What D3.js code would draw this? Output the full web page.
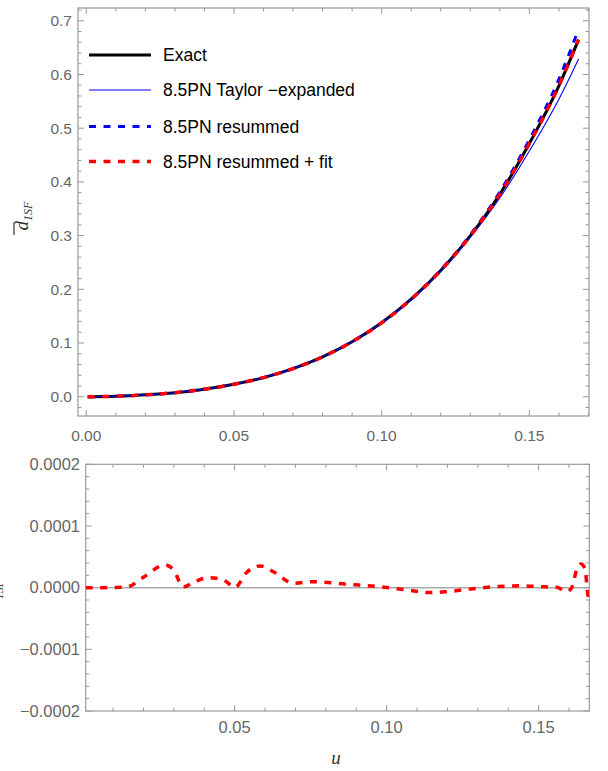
<!DOCTYPE html>
<html><head><meta charset="utf-8">
<script src="https://cdn.jsdelivr.net/npm/d3@7"></script>
<style>html,body{margin:0;padding:0;background:#fff;}svg{display:block;}</style>
</head><body>
<svg id="c" width="608" height="771"></svg>
<script>
// ---- data ----
const uGrid = [0.0005, 0.01, 0.02, 0.03, 0.04, 0.05, 0.06, 0.07, 0.08, 0.09, 0.10, 0.11, 0.12, 0.13, 0.14, 0.15, 0.16, 0.16667];
const exact = [0.0, 0.0008, 0.0035, 0.0075, 0.0140, 0.0232, 0.0356, 0.0523, 0.0742, 0.1024, 0.1377, 0.1815, 0.2350, 0.2995, 0.3770, 0.4715, 0.5790, 0.6650];
const taylor = [0.0, 0.0008, 0.0035, 0.0075, 0.0140, 0.0232, 0.0356, 0.0523, 0.0742, 0.1024, 0.1377, 0.1810, 0.2340, 0.2965, 0.3700, 0.4575, 0.5540, 0.6290];
const resummed = [0.0, 0.0008, 0.0035, 0.0075, 0.0140, 0.0232, 0.0356, 0.0523, 0.0742, 0.1024, 0.1378, 0.1820, 0.2360, 0.3015, 0.3810, 0.4785, 0.5910, 0.6840];
const fitted = exact;
const resU = [0.001, 0.005, 0.011, 0.0145, 0.02, 0.0271, 0.030, 0.0331, 0.037, 0.0413, 0.0463, 0.0501, 0.054, 0.0583, 0.063, 0.0693, 0.0759, 0.0868, 0.0978, 0.1066, 0.1142, 0.1197, 0.1285, 0.1362, 0.1439, 0.1504, 0.156, 0.1592, 0.1609, 0.1625, 0.1639, 0.1652, 0.1663, 0.16667];
const resV = [0, 0, 0.0000003, 0.000001, 0.000017, 0.0000368, 0.000028, 0.000001, 0.000010, 0.0000162, 0.0000125, 0.0000005, 0.000025, 0.0000352, 0.000025, 0.000007, 0.0000097, 0.0000055, 0.0000016, -0.0000037, -0.000008, -0.0000065, -0.0000016, 0.0000016, 0.000003, 0.0000016, 0.0000005, -0.0000065, 0.0, 0.0000287, 0.0000384, 0.0000314, -0.0000146, -0.00002];
const topXTicks = [0.00, 0.05, 0.10, 0.15];
const topYTicks = [0.0, 0.1, 0.2, 0.3, 0.4, 0.5, 0.6, 0.7];
const botXTicks = [0.05, 0.10, 0.15];
const botYTicks = [-0.0002, -0.0001, 0.0, 0.0001, 0.0002];
const legendLabels = ["Exact", "8.5PN Taylor \u2212expanded", "8.5PN resummed", "8.5PN resummed + fit"];

// ---- setup ----
const svg = d3.select("#c");
const frameCol = "#999999", labCol = "#666666";
const sans = "'Liberation Sans', Arial, sans-serif";
const serif = "'Liberation Serif', 'Times New Roman', serif";

function panel(g, x, y, xMinor, yMinor, xMajor, yMajor) {
  const [x0, x1] = x.range(), [y1, y0] = y.range();
  g.append("rect").attr("x", x0).attr("y", y0).attr("width", x1 - x0).attr("height", y1 - y0)
    .attr("fill", "none").attr("stroke", frameCol).attr("stroke-width", 1.2);
  const tk = g.append("g").attr("stroke", frameCol).attr("stroke-width", 1);
  xMinor.forEach(v => { const px = x(v); if (px < x0 || px > x1) return;
    const L = xMajor.some(m => Math.abs(m - v) < 1e-9) ? 6 : 3.5;
    tk.append("line").attr("x1", px).attr("x2", px).attr("y1", y1).attr("y2", y1 - L);
    tk.append("line").attr("x1", px).attr("x2", px).attr("y1", y0).attr("y2", y0 + L);
  });
  yMinor.forEach(v => { const py = y(v); if (py < y0 - 0.1 || py > y1 + 0.1) return;
    const L = yMajor.some(m => Math.abs(m - v) < 1e-12) ? 6 : 3.5;
    tk.append("line").attr("y1", py).attr("y2", py).attr("x1", x0).attr("x2", x0 + L);
    tk.append("line").attr("y1", py).attr("y2", py).attr("x1", x1).attr("x2", x1 - L);
  });
}

// ---- top panel ----
const xT = d3.scaleLinear().domain([-0.0028, 0.1702]).range([78, 589]);
const yT = d3.scaleLinear().domain([-0.0359, 0.7238]).range([416, 8]);
const gT = svg.append("g");
const xMinT = d3.range(0, 18).map(i => i * 0.01);
const yMinT = d3.range(-1, 37).map(i => i * 0.02);
panel(gT, xT, yT, xMinT, yMinT, topXTicks, topYTicks);
gT.selectAll(".xl").data(topXTicks).enter().append("text")
  .attr("x", d => xT(d)).attr("y", 441).attr("text-anchor", "middle")
  .attr("font-family", sans).attr("font-size", 15.5).attr("fill", labCol).text(d => d.toFixed(2));
gT.selectAll(".yl").data(topYTicks).enter().append("text")
  .attr("x", 72).attr("y", d => yT(d)).attr("dy", "0.35em").attr("text-anchor", "end")
  .attr("font-family", sans).attr("font-size", 15.5).attr("fill", labCol).text(d => d.toFixed(1));

svg.append("defs").append("clipPath").attr("id", "clipT").append("rect")
  .attr("x", 78).attr("y", 8).attr("width", 511).attr("height", 408);
const lineT = vals => d3.line().x((d, i) => xT(uGrid[i])).y(d => yT(d)).curve(d3.curveMonotoneX)(vals);
const series = [
  {vals: exact, color: "#000000", w: 3, dash: null},
  {vals: taylor, color: "#0000ff", w: 1.1, dash: null},
  {vals: resummed, color: "#0000ff", w: 3, dash: "7,7.5"},
  {vals: fitted, color: "#ff0000", w: 3.5, dash: "7,7.5"}
];
const cg = gT.append("g").attr("clip-path", "url(#clipT)");
series.forEach(s => {
  cg.append("path").attr("d", lineT(s.vals)).attr("fill", "none").attr("stroke", s.color)
    .attr("stroke-width", s.w).attr("stroke-dasharray", s.dash);
});
// legend
const legY = [55, 90, 126.5, 161.5];
series.forEach((s, i) => {
  gT.append("line").attr("x1", 89).attr("x2", 151).attr("y1", legY[i]).attr("y2", legY[i])
    .attr("stroke", s.color).attr("stroke-width", s.w).attr("stroke-dasharray", s.dash);
  gT.append("text").attr("x", 163).attr("y", legY[i]).attr("dy", "0.36em")
    .attr("font-family", sans).attr("font-size", 17.5).attr("fill", "#000").text(legendLabels[i]);
});
// y label
const yl = gT.append("text").attr("transform", "translate(28,216) rotate(-90)")
  .attr("text-anchor", "middle").attr("font-family", serif).attr("font-style", "italic").attr("font-size", 19).attr("fill", "#333");
yl.append("tspan").text("d");
yl.append("tspan").attr("font-size", 12).attr("dy", 4).text("1SF");
gT.append("line").attr("x1", 14).attr("x2", 14).attr("y1", 222).attr("y2", 235).attr("stroke", "#333").attr("stroke-width", 1.2);

// ---- bottom panel ----
const xB = d3.scaleLinear().domain([0.001, 0.16667]).range([85.7, 589.3]);
const yB = d3.scaleLinear().domain([-0.0002, 0.0002]).range([711, 464.3]);
const gB = svg.append("g");
const xMinB = d3.range(1, 17).map(i => i * 0.01);
const yMinB = d3.range(-10, 11).map(i => i * 0.00002);
gB.append("line").attr("x1", 85.7).attr("x2", 589.3).attr("y1", yB(0)).attr("y2", yB(0))
  .attr("stroke", "#aaaaaa").attr("stroke-width", 1.5);
panel(gB, xB, yB, xMinB, yMinB, botXTicks, botYTicks);
gB.selectAll(".xl").data(botXTicks).enter().append("text")
  .attr("x", d => xB(d)).attr("y", 733).attr("text-anchor", "middle")
  .attr("font-family", sans).attr("font-size", 16.5).attr("fill", labCol).text(d => d.toFixed(2));
gB.selectAll(".yl").data(botYTicks).enter().append("text")
  .attr("x", 80).attr("y", d => yB(d)).attr("dy", "0.35em").attr("text-anchor", "end")
  .attr("font-family", sans).attr("font-size", 16.5).attr("fill", labCol)
  .text(d => (d < 0 ? "\u2212" : "") + Math.abs(d).toFixed(4));
svg.append("defs").append("clipPath").attr("id", "clipB").append("rect")
  .attr("x", 85.7).attr("y", 464.3).attr("width", 503.6).attr("height", 246.7);
const lineB = d3.line().x((d, i) => xB(resU[i])).y(d => yB(d)).curve(d3.curveMonotoneX);
gB.append("g").attr("clip-path", "url(#clipB)").append("path").attr("d", lineB(resV))
  .attr("fill", "none").attr("stroke", "#ff0000").attr("stroke-width", 3.5).attr("stroke-dasharray", "7,7.5");
// bottom y label (mostly off-canvas, as in the reference)
const yl2 = gB.append("text").attr("transform", "translate(-1,600) rotate(-90)")
  .attr("text-anchor", "middle").attr("font-family", serif).attr("font-style", "italic").attr("font-size", 19).attr("fill", "#333");
yl2.append("tspan").text("\u0394d");
yl2.append("tspan").attr("font-size", 12).attr("dy", 4).text("1SF");
// x label
svg.append("text").attr("x", 336).attr("y", 764).attr("text-anchor", "middle")
  .attr("font-family", serif).attr("font-style", "italic").attr("font-size", 19).attr("fill", "#333").text("u");
</script>
</body></html>
